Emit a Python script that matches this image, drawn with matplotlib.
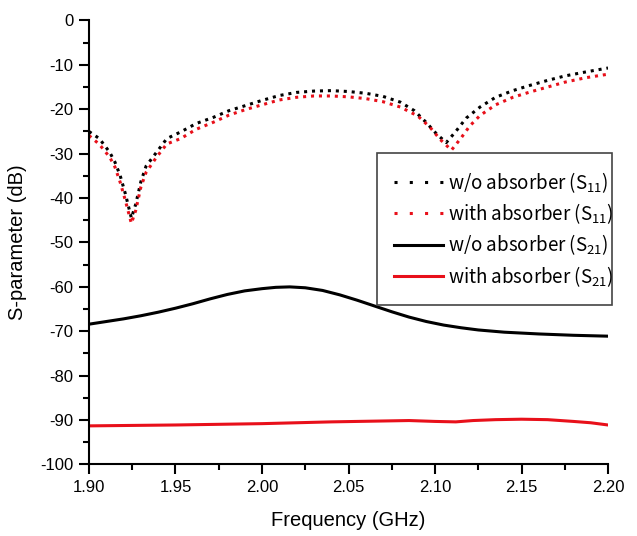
import matplotlib
matplotlib.use("Agg")
import matplotlib.pyplot as plt
from matplotlib.lines import Line2D
from matplotlib.ticker import MultipleLocator, FormatStrFormatter

# ---- data ----
freq_s11_wo = [1.900, 1.906, 1.912, 1.915, 1.918, 1.921, 1.9245, 1.927, 1.930, 1.933,
               1.939, 1.945, 1.953, 1.962, 1.972, 1.981, 1.991, 2.000, 2.010, 2.020,
               2.030, 2.040, 2.050, 2.060, 2.070, 2.080, 2.088, 2.095, 2.101, 2.1065,
               2.112, 2.118, 2.126, 2.135, 2.145, 2.155, 2.165, 2.175, 2.187, 2.200]
s11_wo = [-25.0, -26.6, -29.7, -31.9, -34.9, -39.0, -44.5, -41.4, -36.3, -32.8,
          -29.7, -26.6, -25.1, -23.2, -21.8, -20.3, -19.1, -18.0, -16.9, -16.2,
          -15.9, -15.8, -16.0, -16.4, -17.1, -18.4, -20.3, -23.0, -25.6, -27.5,
          -25.0, -22.0, -19.5, -17.3, -15.8, -14.6, -13.5, -12.5, -11.6, -10.7]

freq_s11_with = [1.900, 1.906, 1.912, 1.915, 1.918, 1.921, 1.9245, 1.927, 1.930, 1.933,
                 1.939, 1.945, 1.953, 1.962, 1.972, 1.981, 1.991, 2.000, 2.010, 2.020,
                 2.030, 2.040, 2.050, 2.060, 2.070, 2.080, 2.090, 2.097, 2.103, 2.1095,
                 2.115, 2.120, 2.126, 2.135, 2.145, 2.155, 2.165, 2.175, 2.187, 2.200]
s11_with = [-25.9, -27.9, -30.8, -33.0, -36.4, -40.5, -45.7, -42.8, -37.5, -34.2,
            -30.8, -27.8, -26.6, -24.5, -22.9, -21.3, -20.0, -19.0, -17.9, -17.3,
            -17.0, -17.0, -17.2, -17.6, -18.3, -19.5, -21.5, -24.0, -26.8, -29.2,
            -26.5, -23.8, -21.4, -19.0, -17.3, -16.1, -15.0, -13.9, -12.9, -12.1]

freq_s21_wo = [1.900, 1.910, 1.920, 1.930, 1.940, 1.950, 1.960, 1.970, 1.980, 1.990,
               2.000, 2.008, 2.016, 2.025, 2.035, 2.045, 2.055, 2.065, 2.075, 2.085,
               2.095, 2.105, 2.115, 2.125, 2.140, 2.160, 2.180, 2.200]
s21_wo = [-68.4, -67.8, -67.2, -66.5, -65.7, -64.8, -63.8, -62.7, -61.7, -60.9,
          -60.4, -60.1, -60.0, -60.2, -60.8, -61.8, -63.0, -64.3, -65.6, -66.8,
          -67.8, -68.6, -69.2, -69.7, -70.2, -70.6, -70.9, -71.1]

freq_s21_with = [1.900, 1.950, 2.000, 2.040, 2.070, 2.085, 2.100, 2.112, 2.122, 2.135,
                 2.150, 2.165, 2.180, 2.190, 2.200]
s21_with = [-91.3, -91.1, -90.8, -90.4, -90.2, -90.1, -90.3, -90.4, -90.1, -89.9,
            -89.8, -89.9, -90.3, -90.6, -91.1]

labels = ["w/o absorber (S$_{\\mathregular{11}}$)",
          "with absorber (S$_{\\mathregular{11}}$)",
          "w/o absorber (S$_{\\mathregular{21}}$)",
          "with absorber (S$_{\\mathregular{21}}$)"]

# ---- figure ----
plt.rcParams['font.family'] = ['Liberation Sans', 'DejaVu Sans']
plt.rcParams['axes.unicode_minus'] = False
fig = plt.figure(figsize=(6.37, 5.36), dpi=100)
ax = fig.add_axes([0.1397, 0.1334, 0.9545 - 0.1397, 0.9618 - 0.1334])

red = '#e8101a'
dot = (0, (1, 1.6))
ax.plot(freq_s11_wo, s11_wo, color='black', lw=2.2, ls=dot)
ax.plot(freq_s11_with, s11_with, color=red, lw=2.2, ls=dot)
ax.plot(freq_s21_wo, s21_wo, color='black', lw=2.2)
ax.plot(freq_s21_with, s21_with, color=red, lw=2.2)

ax.set_xlim(1.90, 2.20)
ax.set_ylim(-100, 0)
ax.xaxis.set_major_locator(MultipleLocator(0.05))
ax.xaxis.set_minor_locator(MultipleLocator(0.025))
ax.xaxis.set_major_formatter(FormatStrFormatter('%.2f'))
ax.yaxis.set_major_locator(MultipleLocator(10))
ax.yaxis.set_minor_locator(MultipleLocator(5))

for s in ['top', 'right']:
    ax.spines[s].set_visible(False)
for s in ['left', 'bottom']:
    ax.spines[s].set_linewidth(1.5)

ax.tick_params(which='major', direction='out', length=7, width=1.5, labelsize=12, pad=4)
ax.tick_params(which='minor', direction='out', length=4, width=1.5)

ax.set_xlabel('Frequency (GHz)', fontsize=14.5, labelpad=12)
ax.set_ylabel('S-parameter (dB)', fontsize=14.5, labelpad=10)

leg_dot = (0, (1, 4))
handles = [Line2D([], [], color='black', lw=2.2, ls=leg_dot),
           Line2D([], [], color=red, lw=2.2, ls=leg_dot),
           Line2D([], [], color='black', lw=2.2),
           Line2D([], [], color=red, lw=2.2)]
leg = ax.legend(handles, labels, loc='upper left', bbox_to_anchor=(0.555, 0.7016, 0.453, 0.0),
                mode='expand', borderaxespad=0, fancybox=False, framealpha=1,
                edgecolor='#444444', prop={'family': ['Noto Sans CJK KR', 'DejaVu Sans'], 'size': 13.5},
                handlelength=2.6, handletextpad=0.3, labelspacing=0.35,
                borderpad=0.9)
leg.get_frame().set_linewidth(1.2)

fig.savefig('out.png', dpi=100, facecolor='white')
